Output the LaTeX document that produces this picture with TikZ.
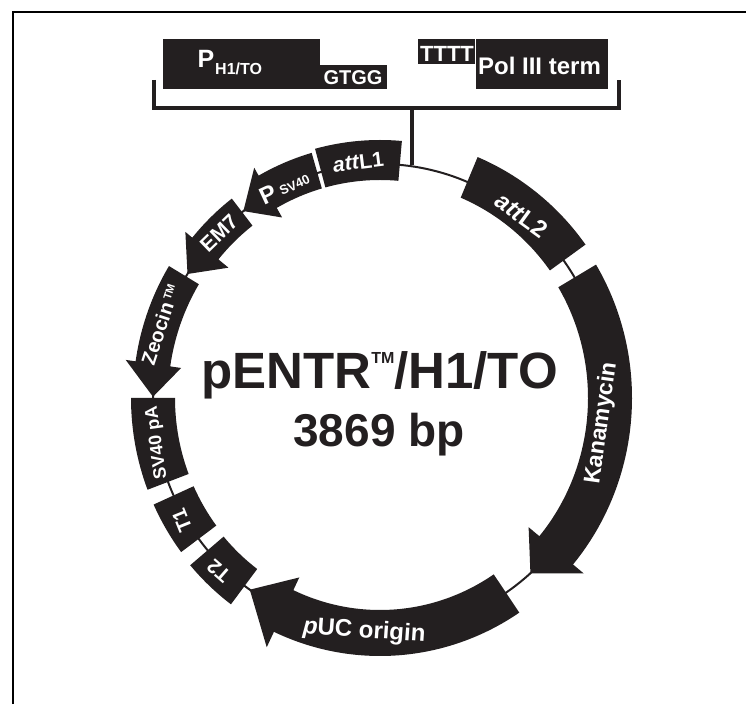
\documentclass[tikz,border=0pt]{standalone}
\usepackage{fontspec}
\setmainfont{Liberation Sans}
\definecolor{plink}{RGB}{35,31,32}
\tikzset{
  frameline/.style={draw=black, line width=1.6pt},
  bracketline/.style={draw=plink, line width=4pt},
  ringline/.style={draw=plink, line width=2pt},
  band/.style={fill=plink},
  toplabel/.style={text=white, inner sep=0pt},
  ringlabel/.style={text=white, inner sep=0pt},
  midlabel/.style={text=plink, inner sep=0pt}
}
\newcommand{\bfsize}[1]{\bfseries\fontsize{#1}{#1}\selectfont}
% box segment: from angle, to angle, inner offset, outer offset
\newcommand{\ringbox}[4]{
  \fill[band] (#1:{227+#4} and {234+#4})
    arc[start angle=#1, end angle=#2, x radius={227+#4}, y radius={234+#4}]
    -- (#2:{227+#3} and {234+#3})
    arc[start angle=#2, end angle=#1, x radius={227+#3}, y radius={234+#3}] -- cycle;
}
% arrow segment: tail, head base, tip, inner, outer, head inner, head outer
\newcommand{\ringarrow}[7]{
  \fill[band] (#1:{227+#5} and {234+#5})
    arc[start angle=#1, end angle=#2, x radius={227+#5}, y radius={234+#5}]
    -- (#2:{227+#7} and {234+#7}) -- (#3:227 and 234) -- (#2:{227+#6} and {234+#6})
    -- (#2:{227+#4} and {234+#4})
    arc[start angle=#2, end angle=#1, x radius={227+#4}, y radius={234+#4}] -- cycle;
}
\begin{document}
\begin{tikzpicture}[x=1pt, y=1pt]
  \useasboundingbox (0,0) rectangle (746,704);

  % Frame
  \draw[frameline] (13,0) -- (13,692) -- (746,692);

  % Insert
  \fill[band] (163,615) rectangle (320,665);
  \fill[band] (320,615) rectangle (387,639);
  \fill[band] (418,640) rectangle (475,665);
  \fill[band] (476,615) rectangle (608,665);
  \node[toplabel, font=\bfsize{25}, anchor=base west] (pname) at (197.5,636) {P};
  \node[toplabel, font=\bfsize{16}, anchor=base west] (psub) at (215,629) {H1/TO};
  \node[toplabel, font=\bfsize{20}, anchor=base] (gtgg) at (353,619) {GTGG};
  \node[toplabel, font=\bfsize{22}, anchor=base] (tttt) at (447,642) {TTTT};
  \node[toplabel, font=\bfsize{24}, anchor=base] (polterm) at (539.5,629) {Pol III term};

  % Bracket
  \coordinate (brL) at (154,624);
  \coordinate (brR) at (619,624);
  \coordinate (brM) at (412,596);
  \coordinate (brE) at (412,539);
  \draw[bracketline] (brL) |- (brR |- brM) -- (brR);
  \draw[bracketline] (brM) -- (brE);

  % Plasmid
  \begin{scope}[shift={(380,306)}]
    \draw[ringline] (0,0) ellipse (227 and 234);
    \ringbox{85}{105}{-16}{24}
    \ringarrow{106}{119.3}{127}{-16}{21}{-27}{30}
    \ringarrow{127.4}{140.3}{148}{-17}{17}{-30}{26}
    \ringarrow{148.7}{171.7}{179.7}{-15}{20}{-26}{30}
    \ringbox{180}{201}{-22}{22}
    \ringbox{204.6}{217}{-22}{22}
    \ringbox{220.6}{233.4}{-21}{23}
    \ringarrow{303.7}{245}{235}{-22}{24}{-36}{41}
    \ringarrow{31}{-40}{-48.5}{-19}{25}{-33}{39}
    \ringbox{67.4}{36}{-17}{27}

    % Ring labels
    \node[ringlabel, font=\bfsize{21}, rotate=7] (attone) at (95.4:230 and 237) {\textit{att}L1};
    \node[ringlabel, font=\bfsize{24}, rotate=25] (psv) at (115:226 and 233) {P\,\raisebox{1pt}{\fontsize{13}{13}\selectfont SV40}};
    \node[ringlabel, font=\bfsize{21}, rotate=44] (emseven) at (135.2:227 and 234) {EM7};
    \node[ringlabel, font=\bfsize{20}, rotate=72] (zeocin) at (162:231 and 238) {Zeocin\,\raisebox{5pt}{\fontsize{11}{11}\selectfont TM}};
    \node[ringlabel, font=\bfsize{18}, rotate=98] (svpa) at (191:227 and 234) {SV40 pA};
    \node[ringlabel, font=\bfsize{20}, rotate=112] (tone) at (211:231 and 238) {T1};
    \node[ringlabel, font=\bfsize{20}, rotate=139] (ttwo) at (226.2:233 and 240) {T2};
    \node[ringlabel, font=\bfsize{24}, rotate=-4] (puc) at (266:227 and 234) {\textit{p}UC origin};
    \node[ringlabel, font=\bfsize{23}, rotate=82] (kan) at (-6.3:223 and 230) {Kanamycin};
    \node[ringlabel, font=\bfsize{24}, rotate=-36] (atttwo) at (51.3:227 and 234) {\textit{att}L2};
  \end{scope}

  % Title
  \node[midlabel, font=\bfsize{51}, anchor=base east] (titlename) at (558,315) {pENTR\raisebox{25pt}{\bfsize{16}TM}/H1/TO};
  \node[midlabel, font=\bfsize{46}, anchor=base] (bpsize) at (379,257) {3869 bp};
\end{tikzpicture}
\end{document}
